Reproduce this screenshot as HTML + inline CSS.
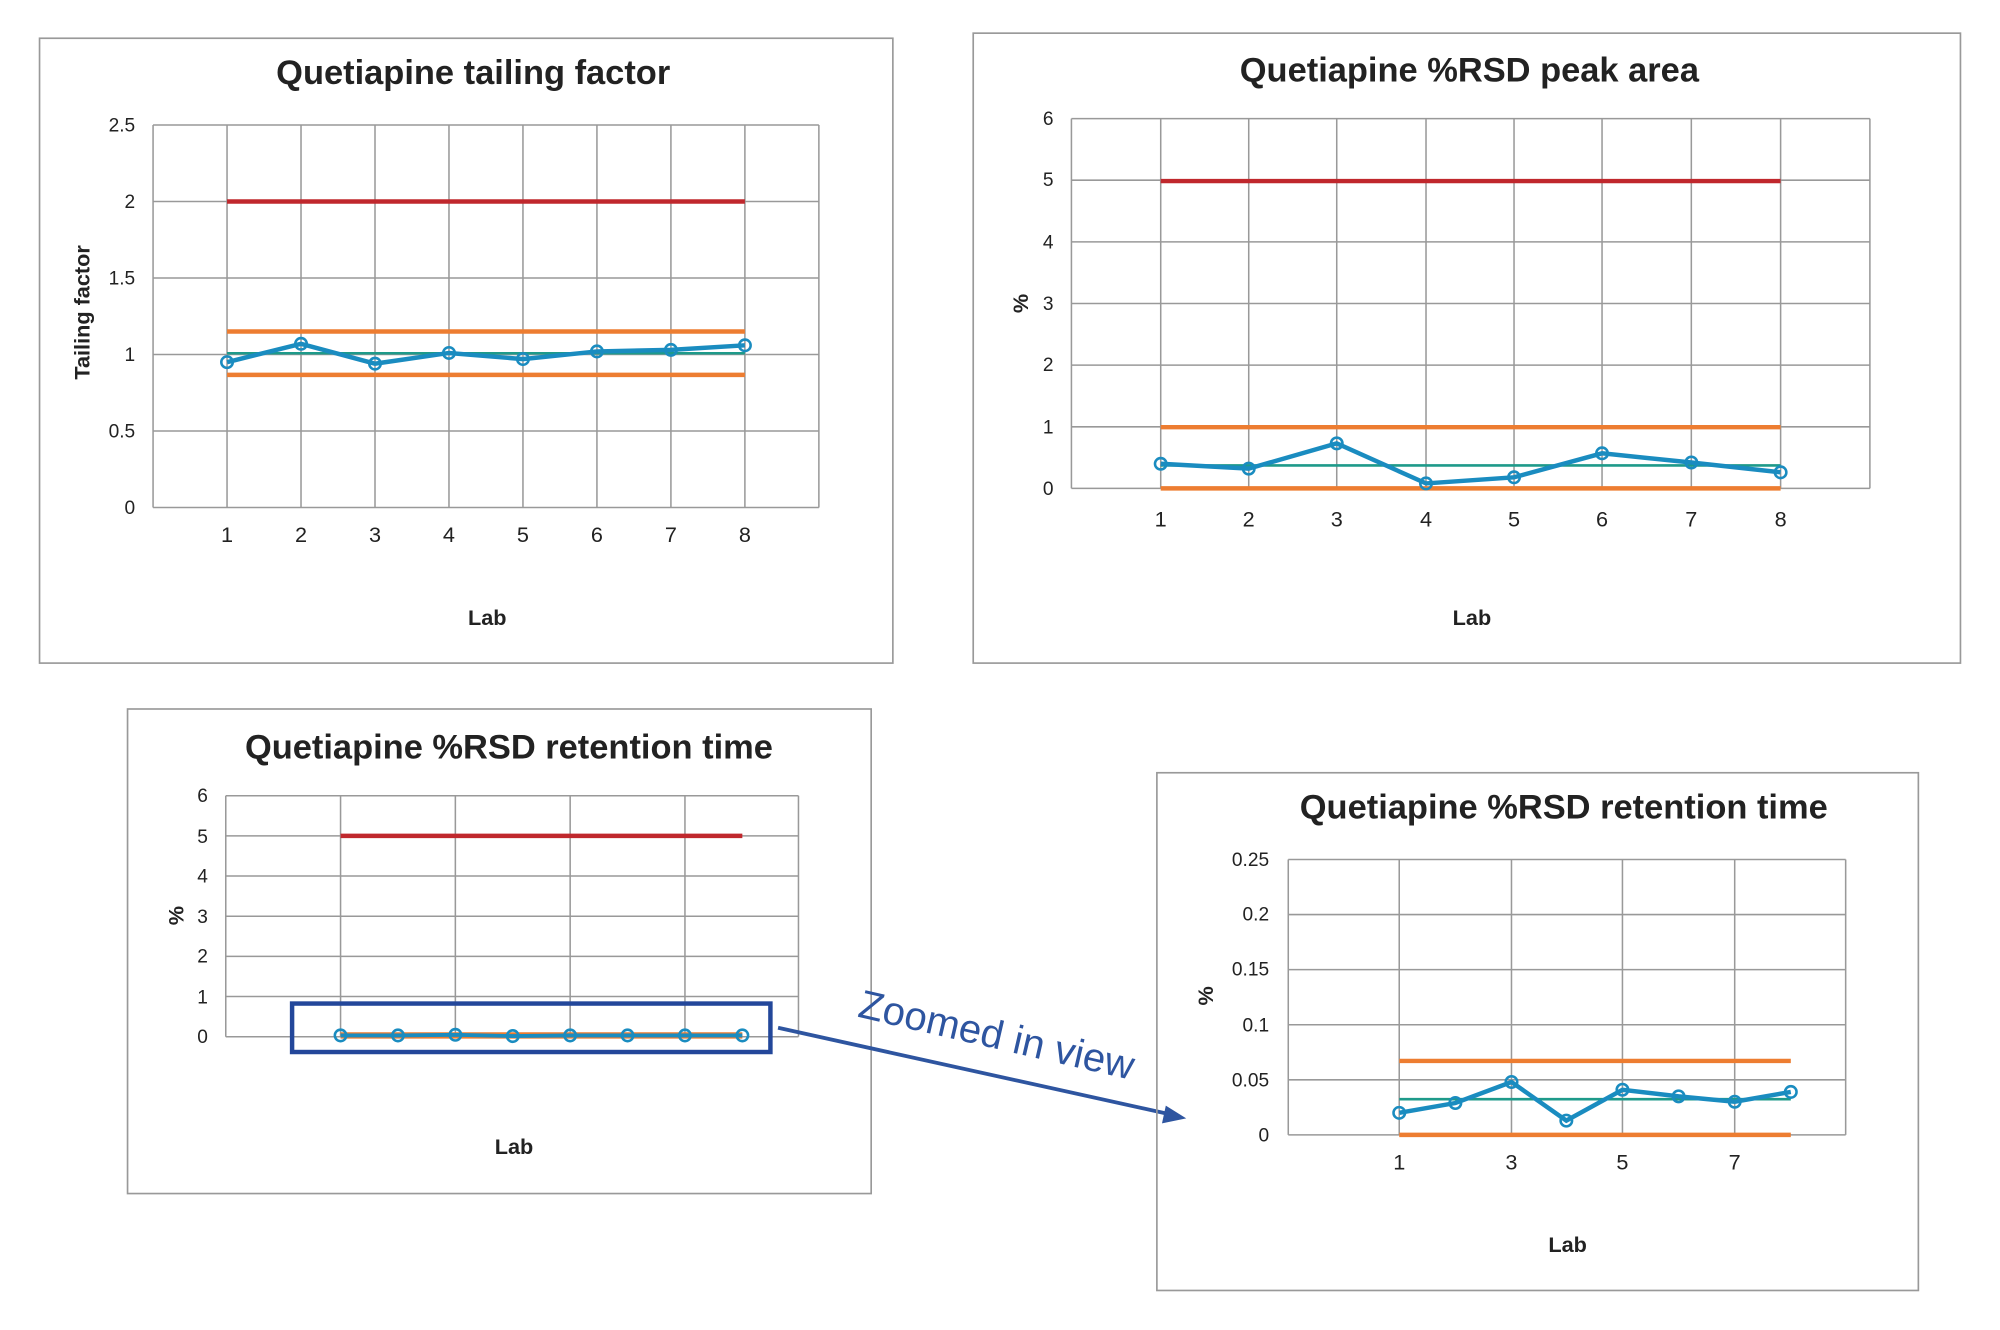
<!DOCTYPE html>
<html><head><meta charset="utf-8"><style>html,body{margin:0;padding:0;background:#fff}svg{display:block}</style></head><body>
<svg width="2000" height="1330" viewBox="0 0 1568 1043" preserveAspectRatio="none" xmlns="http://www.w3.org/2000/svg" font-family="Liberation Sans, Arial, sans-serif">
<rect width="1568" height="1043" fill="#fff"/>
<!-- Chart 1 -->
<rect x="31" y="30" width="669" height="490" fill="none" stroke="#999" stroke-width="1.3"/>
<text x="371" y="66" text-anchor="middle" font-size="27" font-weight="bold" fill="#222">Quetiapine tailing factor</text>
<g stroke="#999" stroke-width="1.2">
<line x1="120" y1="98" x2="642" y2="98"/><line x1="120" y1="158" x2="642" y2="158"/><line x1="120" y1="218" x2="642" y2="218"/><line x1="120" y1="278" x2="642" y2="278"/><line x1="120" y1="338" x2="642" y2="338"/><line x1="120" y1="398" x2="642" y2="398"/>
<line x1="120" y1="98" x2="120" y2="398"/><line x1="178" y1="98" x2="178" y2="398"/><line x1="236" y1="98" x2="236" y2="398"/><line x1="294" y1="98" x2="294" y2="398"/><line x1="352" y1="98" x2="352" y2="398"/><line x1="410" y1="98" x2="410" y2="398"/><line x1="468" y1="98" x2="468" y2="398"/><line x1="526" y1="98" x2="526" y2="398"/><line x1="584" y1="98" x2="584" y2="398"/><line x1="642" y1="98" x2="642" y2="398"/>
</g>
<g font-size="15" fill="#222" text-anchor="end"><text x="106" y="103">2.5</text><text x="106" y="163">2</text><text x="106" y="223">1.5</text><text x="106" y="283">1</text><text x="106" y="343">0.5</text><text x="106" y="403">0</text></g>
<g font-size="17" fill="#222" text-anchor="middle"><text x="178" y="425">1</text><text x="236" y="425">2</text><text x="294" y="425">3</text><text x="352" y="425">4</text><text x="410" y="425">5</text><text x="468" y="425">6</text><text x="526" y="425">7</text><text x="584" y="425">8</text></g>
<text transform="translate(70,245) rotate(-90)" text-anchor="middle" font-size="17" font-weight="bold" fill="#222">Tailing factor</text>
<text x="382" y="490" text-anchor="middle" font-size="17" font-weight="bold" fill="#222">Lab</text>
<line x1="178" y1="158" x2="584" y2="158" stroke="#c0282d" stroke-width="3.5"/>
<line x1="178" y1="260" x2="584" y2="260" stroke="#ed7d31" stroke-width="3.5"/>
<line x1="178" y1="294" x2="584" y2="294" stroke="#ed7d31" stroke-width="3.5"/>
<line x1="178" y1="277" x2="584" y2="277" stroke="#1e9a8a" stroke-width="2"/>
<polyline points="178,284 236,269.6 294,285.2 352,276.8 410,281.6 468,275.6 526,274.4 584,270.8" fill="none" stroke="#1a8cc0" stroke-width="3.5"/>
<g fill="none" stroke="#1a8cc0" stroke-width="2"><circle cx="178" cy="284" r="4.5"/><circle cx="236" cy="269.6" r="4.5"/><circle cx="294" cy="285.2" r="4.5"/><circle cx="352" cy="276.8" r="4.5"/><circle cx="410" cy="281.6" r="4.5"/><circle cx="468" cy="275.6" r="4.5"/><circle cx="526" cy="274.4" r="4.5"/><circle cx="584" cy="270.8" r="4.5"/></g>

<!-- Chart 2 -->
<rect x="763" y="26" width="774" height="494" fill="none" stroke="#999" stroke-width="1.3"/>
<text x="1152" y="64" text-anchor="middle" font-size="27" font-weight="bold" fill="#222">Quetiapine %RSD peak area</text>
<g stroke="#999" stroke-width="1.2">
<line x1="840" y1="93" x2="1466" y2="93"/><line x1="840" y1="141.3" x2="1466" y2="141.3"/><line x1="840" y1="189.7" x2="1466" y2="189.7"/><line x1="840" y1="238" x2="1466" y2="238"/><line x1="840" y1="286.3" x2="1466" y2="286.3"/><line x1="840" y1="334.7" x2="1466" y2="334.7"/><line x1="840" y1="383" x2="1466" y2="383"/>
<line x1="840" y1="93" x2="840" y2="383"/><line x1="910" y1="93" x2="910" y2="383"/><line x1="979" y1="93" x2="979" y2="383"/><line x1="1048" y1="93" x2="1048" y2="383"/><line x1="1118" y1="93" x2="1118" y2="383"/><line x1="1187" y1="93" x2="1187" y2="383"/><line x1="1256" y1="93" x2="1256" y2="383"/><line x1="1326" y1="93" x2="1326" y2="383"/><line x1="1396" y1="93" x2="1396" y2="383"/><line x1="1466" y1="93" x2="1466" y2="383"/>
</g>
<g font-size="15" fill="#222" text-anchor="end"><text x="826" y="98">6</text><text x="826" y="146">5</text><text x="826" y="195">4</text><text x="826" y="243">3</text><text x="826" y="291">2</text><text x="826" y="340">1</text><text x="826" y="388">0</text></g>
<g font-size="17" fill="#222" text-anchor="middle"><text x="910" y="413">1</text><text x="979" y="413">2</text><text x="1048" y="413">3</text><text x="1118" y="413">4</text><text x="1187" y="413">5</text><text x="1256" y="413">6</text><text x="1326" y="413">7</text><text x="1396" y="413">8</text></g>
<text transform="translate(806,238) rotate(-90)" text-anchor="middle" font-size="17" font-weight="bold" fill="#222">%</text>
<text x="1154" y="490" text-anchor="middle" font-size="17" font-weight="bold" fill="#222">Lab</text>
<line x1="910" y1="142" x2="1396" y2="142" stroke="#c0282d" stroke-width="3.5"/>
<line x1="910" y1="335" x2="1396" y2="335" stroke="#ed7d31" stroke-width="3.5"/>
<line x1="910" y1="383" x2="1396" y2="383" stroke="#ed7d31" stroke-width="3.5"/>
<line x1="910" y1="365" x2="1396" y2="365" stroke="#1e9a8a" stroke-width="2"/>
<polyline points="910,363.7 979,367.5 1048,347.7 1118,379.1 1187,374.3 1256,355.5 1326,362.7 1396,370.4" fill="none" stroke="#1a8cc0" stroke-width="3.5"/>
<g fill="none" stroke="#1a8cc0" stroke-width="2"><circle cx="910" cy="363.7" r="4.5"/><circle cx="979" cy="367.5" r="4.5"/><circle cx="1048" cy="347.7" r="4.5"/><circle cx="1118" cy="379.1" r="4.5"/><circle cx="1187" cy="374.3" r="4.5"/><circle cx="1256" cy="355.5" r="4.5"/><circle cx="1326" cy="362.7" r="4.5"/><circle cx="1396" cy="370.4" r="4.5"/></g>

<!-- Chart 3 -->
<rect x="100" y="556" width="583" height="380" fill="none" stroke="#999" stroke-width="1.3"/>
<text x="399" y="595" text-anchor="middle" font-size="27" font-weight="bold" fill="#222">Quetiapine %RSD retention time</text>
<g stroke="#999" stroke-width="1.2">
<line x1="177" y1="624" x2="626" y2="624"/><line x1="177" y1="655.5" x2="626" y2="655.5"/><line x1="177" y1="687" x2="626" y2="687"/><line x1="177" y1="718.5" x2="626" y2="718.5"/><line x1="177" y1="750" x2="626" y2="750"/><line x1="177" y1="781.5" x2="626" y2="781.5"/><line x1="177" y1="813" x2="626" y2="813"/>
<line x1="177" y1="624" x2="177" y2="813"/><line x1="267" y1="624" x2="267" y2="813"/><line x1="357" y1="624" x2="357" y2="813"/><line x1="447" y1="624" x2="447" y2="813"/><line x1="537" y1="624" x2="537" y2="813"/><line x1="626" y1="624" x2="626" y2="813"/>
</g>
<g font-size="15" fill="#222" text-anchor="end"><text x="163" y="629">6</text><text x="163" y="661">5</text><text x="163" y="692">4</text><text x="163" y="724">3</text><text x="163" y="755">2</text><text x="163" y="787">1</text><text x="163" y="818">0</text></g>
<text transform="translate(144,718) rotate(-90)" text-anchor="middle" font-size="17" font-weight="bold" fill="#222">%</text>
<text x="403" y="905" text-anchor="middle" font-size="17" font-weight="bold" fill="#222">Lab</text>
<line x1="267" y1="655.5" x2="582" y2="655.5" stroke="#c0282d" stroke-width="3.5"/>
<line x1="267" y1="811" x2="582" y2="811" stroke="#ed7d31" stroke-width="3"/>
<line x1="267" y1="813" x2="582" y2="813" stroke="#ed7d31" stroke-width="3"/>
<polyline points="267,812 312,812 357,811.5 402,812.5 447,812 492,812 537,812 582,812" fill="none" stroke="#1a8cc0" stroke-width="3"/>
<g fill="none" stroke="#1a8cc0" stroke-width="2"><circle cx="267" cy="812" r="4.5"/><circle cx="312" cy="812" r="4.5"/><circle cx="357" cy="811.5" r="4.5"/><circle cx="402" cy="812.5" r="4.5"/><circle cx="447" cy="812" r="4.5"/><circle cx="492" cy="812" r="4.5"/><circle cx="537" cy="812" r="4.5"/><circle cx="582" cy="812" r="4.5"/></g>
<rect x="229" y="787" width="375" height="38" fill="none" stroke="#23479a" stroke-width="3.5"/>

<!-- Arrow -->
<line x1="610" y1="806" x2="918" y2="874" stroke="#2e55a0" stroke-width="3"/>
<polygon points="930,877 914,867 911,881" fill="#2e55a0"/>
<text transform="translate(779,822) rotate(13)" text-anchor="middle" font-size="31.5" fill="#2e55a0">Zoomed in view</text>

<!-- Chart 4 -->
<rect x="907" y="606" width="597" height="406" fill="none" stroke="#999" stroke-width="1.3"/>
<text x="1226" y="642" text-anchor="middle" font-size="27" font-weight="bold" fill="#222">Quetiapine %RSD retention time</text>
<g stroke="#999" stroke-width="1.2">
<line x1="1010" y1="674" x2="1447" y2="674"/><line x1="1010" y1="717.2" x2="1447" y2="717.2"/><line x1="1010" y1="760.4" x2="1447" y2="760.4"/><line x1="1010" y1="803.6" x2="1447" y2="803.6"/><line x1="1010" y1="846.8" x2="1447" y2="846.8"/><line x1="1010" y1="890" x2="1447" y2="890"/>
<line x1="1010" y1="674" x2="1010" y2="890"/><line x1="1097" y1="674" x2="1097" y2="890"/><line x1="1185" y1="674" x2="1185" y2="890"/><line x1="1272" y1="674" x2="1272" y2="890"/><line x1="1360" y1="674" x2="1360" y2="890"/><line x1="1447" y1="674" x2="1447" y2="890"/>
</g>
<g font-size="15" fill="#222" text-anchor="end"><text x="995" y="679">0.25</text><text x="995" y="722">0.2</text><text x="995" y="765">0.15</text><text x="995" y="809">0.1</text><text x="995" y="852">0.05</text><text x="995" y="895">0</text></g>
<g font-size="17" fill="#222" text-anchor="middle"><text x="1097" y="917">1</text><text x="1185" y="917">3</text><text x="1272" y="917">5</text><text x="1360" y="917">7</text></g>
<text transform="translate(951,781) rotate(-90)" text-anchor="middle" font-size="17" font-weight="bold" fill="#222">%</text>
<text x="1229" y="982" text-anchor="middle" font-size="17" font-weight="bold" fill="#222">Lab</text>
<line x1="1097" y1="832" x2="1404" y2="832" stroke="#ed7d31" stroke-width="3.5"/>
<line x1="1097" y1="890" x2="1404" y2="890" stroke="#ed7d31" stroke-width="3.5"/>
<line x1="1097" y1="862" x2="1404" y2="862" stroke="#1e9a8a" stroke-width="2"/>
<polyline points="1097,872.7 1141,865 1185,848.5 1228,878.8 1272,854.6 1316,859.8 1360,864 1404,856.3" fill="none" stroke="#1a8cc0" stroke-width="3.5"/>
<g fill="none" stroke="#1a8cc0" stroke-width="2"><circle cx="1097" cy="872.7" r="4.5"/><circle cx="1141" cy="865" r="4.5"/><circle cx="1185" cy="848.5" r="4.5"/><circle cx="1228" cy="878.8" r="4.5"/><circle cx="1272" cy="854.6" r="4.5"/><circle cx="1316" cy="859.8" r="4.5"/><circle cx="1360" cy="864" r="4.5"/><circle cx="1404" cy="856.3" r="4.5"/></g>
</svg>
</body></html>
